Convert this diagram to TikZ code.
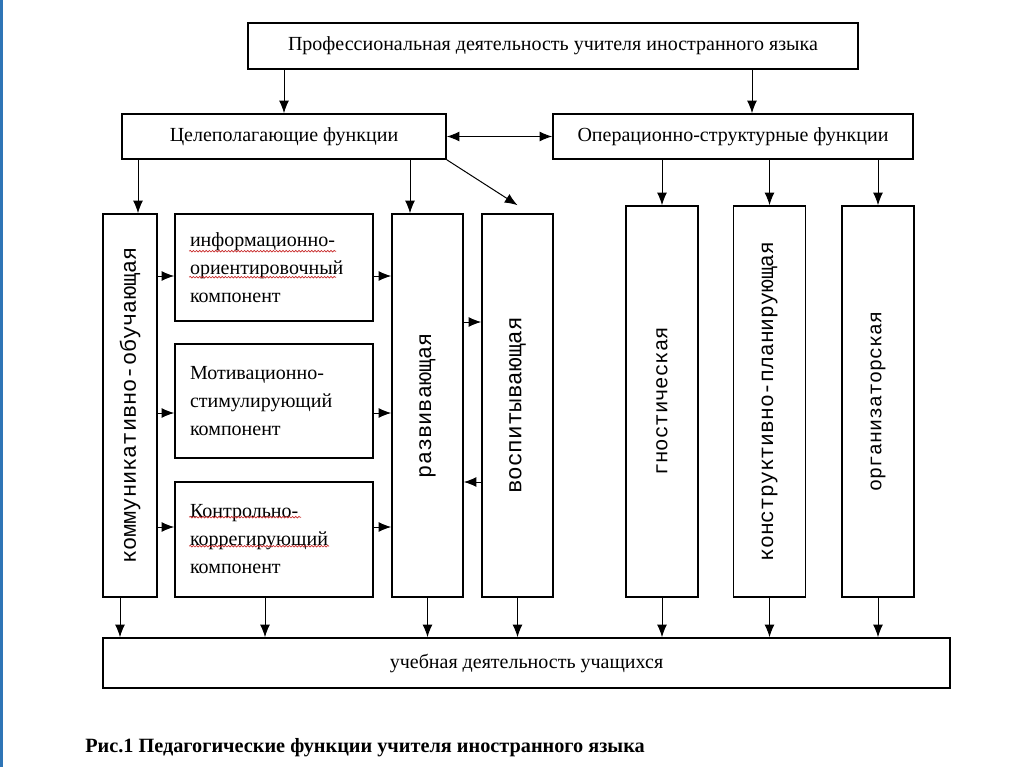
\documentclass[tikz,border=0pt]{standalone}
\usepackage{fontspec}
\setmainfont{Liberation Serif}
\newfontfamily\monofnt{Liberation Mono}
\usetikzlibrary{calc,positioning,arrows.meta,decorations.pathmorphing}
\tikzset{>={Latex[length=9.5pt,width=7.5pt]}}
\definecolor{slideblue}{RGB}{46,117,182}
\definecolor{spellred}{RGB}{200,40,40}

\begin{document}
\begin{tikzpicture}[x=0.75pt,y=-0.75pt,
  box/.style={draw,line width=1.2pt,inner sep=0pt,font=\fontsize{15}{18}\selectfont},
  vbox/.style={box,minimum width=53.25pt,minimum height=287.25pt,font=\monofnt\fontsize{15.5}{18}\selectfont},
  comp/.style={box,text width=126pt,inner xsep=11.25pt,align=left,font=\fontsize{15}{21}\selectfont},
  arr/.style={->,line width=0.75pt},
  spell/.style={spellred,line width=0.5pt,decorate,decoration={snake,amplitude=0.6pt,segment length=2.4pt}}]
  \fill[white] (0,0) rectangle (1024,767);
  \fill[slideblue] (0,0) rectangle (2.5,767);
  \useasboundingbox (0,0) rectangle (1024,767);

  % upper level
  \node[box,minimum width=457.5pt,minimum height=34.5pt] (prof) at (553,46) {Профессиональная деятельность учителя иностранного языка};
  \node[box,minimum width=243pt,minimum height=33.75pt] (goal) at (284,136.5) {Целеполагающие функции};
  \node[box,minimum width=270pt,minimum height=33.75pt] (oper) at (733,136.5) {Операционно-структурные функции};

  % functions
  \node[vbox,minimum width=40.5pt,font=\monofnt\fontsize{16.5}{18}\selectfont] (komm) at (130,405.5) {\rotatebox{90}{коммуникативно-обучающая}};
  \node[comp,minimum height=80.25pt] (info) at (274,267.5) {информационно-\\ориентировочный\\компонент};
  \node[comp,minimum height=85.5pt] (motiv) at (274,401) {Мотивационно-\\стимулирующий\\компонент};
  \node[comp,minimum height=86.25pt] (kontr) at (274,539.5) {Контрольно-\\коррегирующий\\компонент};
  \node[vbox,font=\monofnt\fontsize{16.5}{18}\selectfont] (razv) at (427.5,405.5) {\rotatebox{90}{развивающая}};
  \node[vbox,font=\monofnt\fontsize{17}{18}\selectfont] (vosp) at (517.5,405.5) {\rotatebox{90}{воспитывающая}};
  \node[vbox,minimum width=54pt,minimum height=293.25pt] (gnost) at (662,401.5) {\rotatebox{90}{гностическая}};
  \node[vbox,minimum width=54pt,minimum height=293.25pt,font=\monofnt\fontsize{16}{18}\selectfont] (konstr) at (769.5,401.5) {\rotatebox{90}{конструктивно-планирующая}};
  \node[vbox,minimum width=54pt,minimum height=293.25pt,font=\monofnt\fontsize{15}{18}\selectfont] (org) at (878,401.5) {\rotatebox{90}{организаторская}};

  \node[box,minimum width=635.25pt,minimum height=37.5pt] (ucheb) at (526.5,663) {учебная деятельность учащихся};
  \node[anchor=west,inner sep=0pt,font=\bfseries\fontsize{15.2}{18}\selectfont] (caption) at (85,748) {Рис.1 Педагогические функции учителя иностранного языка};

  \draw[arr] (prof.south -| goal.north) -- (goal.north);
  \draw[arr] ([xshift=14.25pt]oper.north |- prof.south) -- ([xshift=14.25pt]oper.north);
  \draw[<->,line width=0.75pt] (goal.east) -- (oper.west);

  \draw[arr] ([xshift=6pt]komm.north |- goal.south) -- ([xshift=6pt]komm.north);
  \draw[arr] ([xshift=-13.125pt]razv.north |- goal.south) -- ([xshift=-13.125pt]razv.north);
  \draw[arr] (goal.south east) -- ([yshift=6pt]vosp.north);
  \foreach \n in {gnost,konstr,org}
    \draw[arr] (oper.south -| \n.north) -- (\n.north);

  \draw[arr] ([yshift=-6.375pt]komm.east |- info.west) -- ([yshift=-6.375pt]info.west);
  \draw[arr] ([yshift=-9pt]komm.east |- motiv.west) -- ([yshift=-9pt]motiv.west);
  \draw[arr] ([yshift=9.375pt]komm.east |- kontr.west) -- ([yshift=9.375pt]kontr.west);
  \draw[arr] ([yshift=-6.375pt]info.east) -- ([yshift=-6.375pt]razv.west |- info.east);
  \draw[arr] ([yshift=-9pt]motiv.east) -- ([yshift=-9pt]razv.west |- motiv.east);
  \draw[arr] ([yshift=9.375pt]kontr.east) -- ([yshift=9.375pt]razv.west |- kontr.east);
  \draw[arr] ([yshift=62.625pt]razv.east) -- ([yshift=62.625pt]vosp.west);
  \draw[arr] ([yshift=-57.375pt]vosp.west) -- ([yshift=-57.375pt]razv.east);

  \draw[arr] ([xshift=-7.5pt]komm.south) -- ([xshift=-7.5pt]komm.south |- ucheb.north);
  \draw[arr] ([xshift=-6.75pt]kontr.south) -- ([xshift=-6.75pt]kontr.south |- ucheb.north);
  \foreach \n in {razv,vosp,gnost,konstr,org}
    \draw[arr] (\n.south) -- (\n.south |- ucheb.north);

  % spell-check marks
  \draw[spell] ($(info.north west)+(15,38)$) -- ++(147,0);
  \draw[spell] ($(info.north west)+(15,64)$) -- ++(147,0);
  \draw[spell] ($(kontr.north west)+(15,36)$) -- ++(112,0);
  \draw[spell] ($(kontr.north west)+(15,65)$) -- ++(140,0);
\end{tikzpicture}
\end{document}
